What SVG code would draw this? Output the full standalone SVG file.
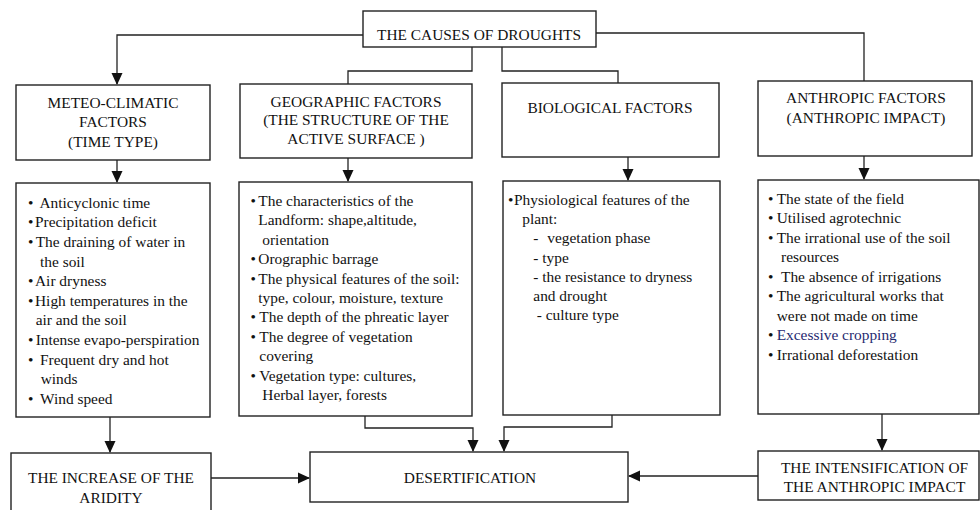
<svg xmlns="http://www.w3.org/2000/svg" width="980" height="510" viewBox="0 0 980 510">
<style>
  .box { fill: #fff; stroke: #222; stroke-width: 1.4; }
  .t { font-family: 'Liberation Serif', 'Tinos', 'DejaVu Serif', serif; font-size: 15.4px; fill: #111; }
  .c { text-anchor: middle; }
  .ln { fill: none; stroke: #222; stroke-width: 1.3; }
  .blue { fill: #1f2a70; }
</style>
<defs>
  <marker id="ah" markerUnits="userSpaceOnUse" markerWidth="12" markerHeight="12" viewBox="0 0 12 12" refX="11" refY="6" orient="auto">
    <path d="M0,0.5 L12,6 L0,11.5 Z" fill="#111"/>
  </marker>
</defs>
<rect width="980" height="510" fill="#fff"/>

<g id="connectors">
  <path class="ln" d="M363,35 H117 V84" marker-end="url(#ah)"/>
  <path class="ln" d="M472,47 V71 H348 V84"/>
  <path class="ln" d="M502,47 V71 H618 V83"/>
  <path class="ln" d="M596,33 H864 V81"/>
  <path class="ln" d="M117,160 V182" marker-end="url(#ah)"/>
  <path class="ln" d="M348,158 V181" marker-end="url(#ah)"/>
  <path class="ln" d="M628,157 V180" marker-end="url(#ah)"/>
  <path class="ln" d="M864,156 V179" marker-end="url(#ah)"/>
  <path class="ln" d="M110,417 V452" marker-end="url(#ah)"/>
  <path class="ln" d="M365,416 V428 H473 V451" marker-end="url(#ah)"/>
  <path class="ln" d="M612,415 V427 H504 V451" marker-end="url(#ah)"/>
  <path class="ln" d="M211,478 H309" marker-end="url(#ah)"/>
  <path class="ln" d="M758,476 H629" marker-end="url(#ah)"/>
  <path class="ln" d="M882,414 V450" marker-end="url(#ah)"/>
</g>

<g id="causes">
  <rect class="box" x="363" y="11" width="233" height="36"/>
  <text class="t c" x="479" y="39.5">THE CAUSES OF DROUGHTS</text>
</g>

<g id="meteo-header">
  <rect class="box" x="16" y="85" width="194" height="75"/>
  <text class="t c" x="113" y="107.7">METEO-CLIMATIC</text>
  <text class="t c" x="113" y="127.3">FACTORS</text>
  <text class="t c" x="113" y="146.7">(TIME TYPE)</text>
</g>

<g id="geo-header">
  <rect class="box" x="240" y="84" width="232" height="74"/>
  <text class="t c" x="356" y="106.7">GEOGRAPHIC FACTORS</text>
  <text class="t c" x="356" y="125">(THE STRUCTURE OF THE</text>
  <text class="t c" x="356" y="144.3">ACTIVE SURFACE )</text>
</g>

<g id="bio-header">
  <rect class="box" x="502" y="83" width="217" height="74"/>
  <text class="t c" x="610" y="113.3">BIOLOGICAL FACTORS</text>
</g>

<g id="anthro-header">
  <rect class="box" x="758" y="81" width="214" height="75"/>
  <text class="t c" x="866" y="103.3">ANTHROPIC FACTORS</text>
  <text class="t c" x="866" y="123.3">(ANTHROPIC IMPACT)</text>
</g>

<g id="meteo-list">
  <rect class="box" x="16" y="183" width="194" height="234"/>
  <text class="t" x="28" y="207.5">•</text>
  <text class="t" x="39.5" y="207.5">Anticyclonic time</text>
  <text class="t" x="28" y="227.2">•</text>
  <text class="t" x="35" y="227.2">Precipitation deficit</text>
  <text class="t" x="28" y="246.8">•</text>
  <text class="t" x="35.7" y="246.8">The draining of water in</text>
  <text class="t" x="40" y="266.5">the soil</text>
  <text class="t" x="28" y="286.1">•</text>
  <text class="t" x="35" y="286.1">Air dryness</text>
  <text class="t" x="28" y="305.8">•</text>
  <text class="t" x="35" y="305.8">High temperatures in the</text>
  <text class="t" x="35.7" y="325.4">air and the soil</text>
  <text class="t" x="28" y="345.1">•</text>
  <text class="t" x="35.7" y="345.1">Intense evapo-perspiration</text>
  <text class="t" x="28" y="364.7">•</text>
  <text class="t" x="40" y="364.7">Frequent dry and hot</text>
  <text class="t" x="40.7" y="384.4">winds</text>
  <text class="t" x="28" y="404">•</text>
  <text class="t" x="40" y="404">Wind speed</text>
</g>

<g id="geo-list">
  <rect class="box" x="239" y="182" width="233" height="234"/>
  <text class="t" x="250.6" y="206">•</text>
  <text class="t" x="258.3" y="206">The characteristics of the</text>
  <text class="t" x="258.3" y="225.4">Landform: shape,altitude,</text>
  <text class="t" x="262.3" y="244.8">orientation</text>
  <text class="t" x="250.6" y="264.2">•</text>
  <text class="t" x="258.3" y="264.2">Orographic barrage</text>
  <text class="t" x="250.6" y="283.6">•</text>
  <text class="t" x="258.3" y="283.6">The physical features of the soil:</text>
  <text class="t" x="258.3" y="303">type, colour, moisture, texture</text>
  <text class="t" x="250.6" y="322.4">•</text>
  <text class="t" x="259.3" y="322.4">The depth of the phreatic layer</text>
  <text class="t" x="250.6" y="341.8">•</text>
  <text class="t" x="259.3" y="341.8">The degree of vegetation</text>
  <text class="t" x="259.3" y="361.2">covering</text>
  <text class="t" x="250.6" y="380.6">•</text>
  <text class="t" x="259.3" y="380.6">Vegetation type: cultures,</text>
  <text class="t" x="262.3" y="400">Herbal layer, forests</text>
</g>

<g id="bio-list">
  <rect class="box" x="503" y="181" width="217" height="234"/>
  <text class="t" x="508" y="205">•</text>
  <text class="t" x="514" y="205">Physiological features of the</text>
  <text class="t" x="522.3" y="224.2">plant:</text>
  <text class="t" x="533.3" y="243.3">-  <tspan x="547.3">vegetation phase</tspan></text>
  <text class="t" x="533.3" y="262.5">- type</text>
  <text class="t" x="533.3" y="281.7">- the resistance to dryness</text>
  <text class="t" x="533.3" y="300.8">and drought</text>
  <text class="t" x="536.7" y="320">- culture type</text>
</g>

<g id="anthro-list">
  <rect class="box" x="758" y="180" width="221" height="234"/>
  <text class="t" x="768" y="203.5">•</text>
  <text class="t" x="776.7" y="203.5">The state of the field</text>
  <text class="t" x="768" y="223">•</text>
  <text class="t" x="776.7" y="223">Utilised agrotechnic</text>
  <text class="t" x="768" y="242.5">•</text>
  <text class="t" x="776.7" y="242.5">The irrational use of the soil</text>
  <text class="t" x="781" y="262">resources</text>
  <text class="t" x="768" y="281.5">•</text>
  <text class="t" x="781" y="281.5">The absence of irrigations</text>
  <text class="t" x="768" y="301">•</text>
  <text class="t" x="776.7" y="301">The agricultural works that</text>
  <text class="t" x="776.7" y="320.5">were not made on time</text>
  <text class="t" x="768" y="340">•</text>
  <text class="t blue" x="776.7" y="340">Excessive cropping</text>
  <text class="t" x="768" y="359.5">•</text>
  <text class="t" x="776.7" y="359.5">Irrational deforestation</text>
</g>

<g id="aridity">
  <rect class="box" x="11" y="453" width="200" height="60"/>
  <text class="t c" x="111" y="483.3">THE INCREASE OF THE</text>
  <text class="t c" x="111" y="502.7">ARIDITY</text>
</g>

<g id="desertification">
  <rect class="box" x="310" y="452" width="318" height="50"/>
  <text class="t c" x="470" y="482.7">DESERTIFICATION</text>
</g>

<g id="intensification">
  <rect class="box" x="758" y="451" width="221" height="49"/>
  <text class="t c" x="874.5" y="473.3">THE INTENSIFICATION OF</text>
  <text class="t c" x="874.5" y="492.3">THE ANTHROPIC IMPACT</text>
</g>
</svg>
